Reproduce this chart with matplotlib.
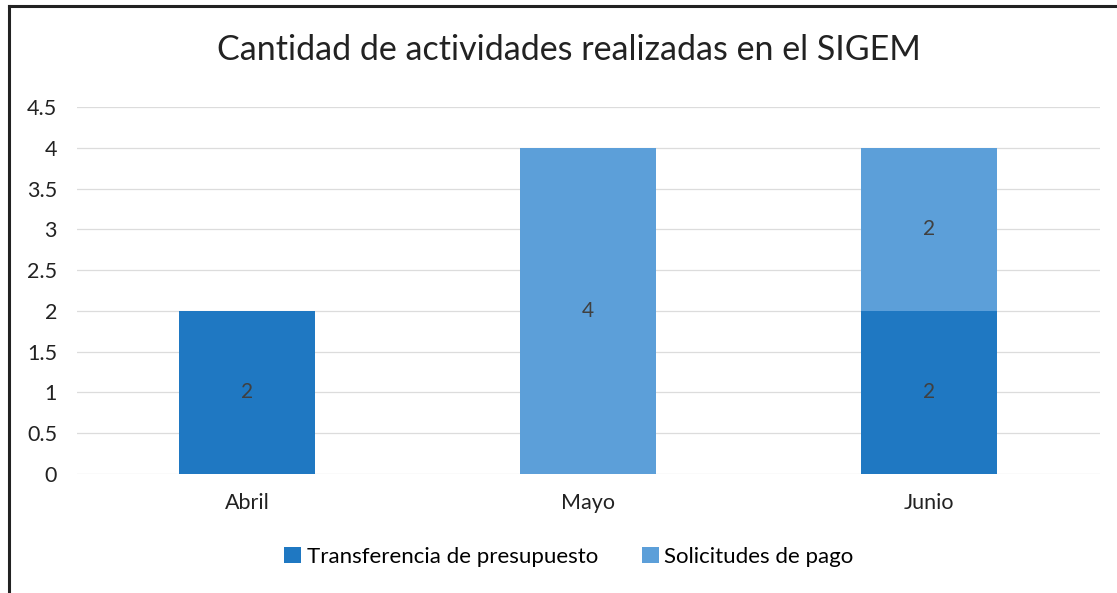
import matplotlib.pyplot as plt
from matplotlib.lines import Line2D
import numpy as np

plt.rcParams['font.family'] = ['Lato', 'DejaVu Sans']

meses = ["Abril", "Mayo", "Junio"]
transferencia = [2, 0, 2]
solicitudes = [0, 4, 2]
series_names = ["Transferencia de presupuesto", "Solicitudes de pago"]

DARK = "#1f78c2"
LIGHT = "#5c9fd9"

fig = plt.figure(figsize=(11.17, 5.93), dpi=100)
ax = fig.add_axes([76.5 / 1117, 1 - 474 / 593, 1023 / 1117, 367 / 593])

x = np.arange(len(meses))
w = 0.4
b1 = ax.bar(x, transferencia, w, color=DARK, label=series_names[0], zorder=3)
b2 = ax.bar(x, solicitudes, w, bottom=transferencia, color=LIGHT,
            label=series_names[1], zorder=3)

# data labels, skip empty segments
for bars, vals, base in ((b1, transferencia, [0, 0, 0]), (b2, solicitudes, transferencia)):
    for rect, v, b in zip(bars, vals, base):
        if v > 0:
            ax.text(rect.get_x() + rect.get_width() / 2, b + v / 2, str(v),
                    ha="center", va="center", fontsize=15, color="#404040", zorder=4)

ax.set_xlim(-0.5, 2.5)
ax.set_ylim(0, 4.5)
ax.set_yticks(np.arange(0, 4.51, 0.5))
ax.set_yticklabels(["0", "0.5", "1", "1.5", "2", "2.5", "3", "3.5", "4", "4.5"])
ax.set_xticks(x)
ax.set_xticklabels(meses)
ax.tick_params(axis="both", length=0, labelsize=15.5, colors="#222222")
ax.tick_params(axis="y", pad=14)
ax.tick_params(axis="x", pad=14)
ax.grid(axis="y", color="#dcdcdc", linewidth=0.9, zorder=0)
for s in ax.spines.values():
    s.set_visible(False)

fig.suptitle("Cantidad de actividades realizadas en el SIGEM", x=569 / 1117,
             y=1 - 50 / 593, va="center", fontsize=24.5, color="#222222")

fig.legend(handles=[b1, b2], labels=series_names, loc="center",
           bbox_to_anchor=(569 / 1117, 1 - 557 / 593), ncol=2, frameon=False,
           fontsize=16, handlelength=0.75, handleheight=0.75, handletextpad=0.25,
           columnspacing=2.0)

# scanned frame edges
fig.add_artist(Line2D([9 / 1117, 9 / 1117], [0, 1 - 6 / 593], transform=fig.transFigure,
                      color="#222222", linewidth=2.2))
fig.add_artist(Line2D([9 / 1117, 1], [1 - 6 / 593, 1 - 6 / 593], transform=fig.transFigure,
                      color="#222222", linewidth=2.2))

fig.savefig("out.png", dpi=100)
